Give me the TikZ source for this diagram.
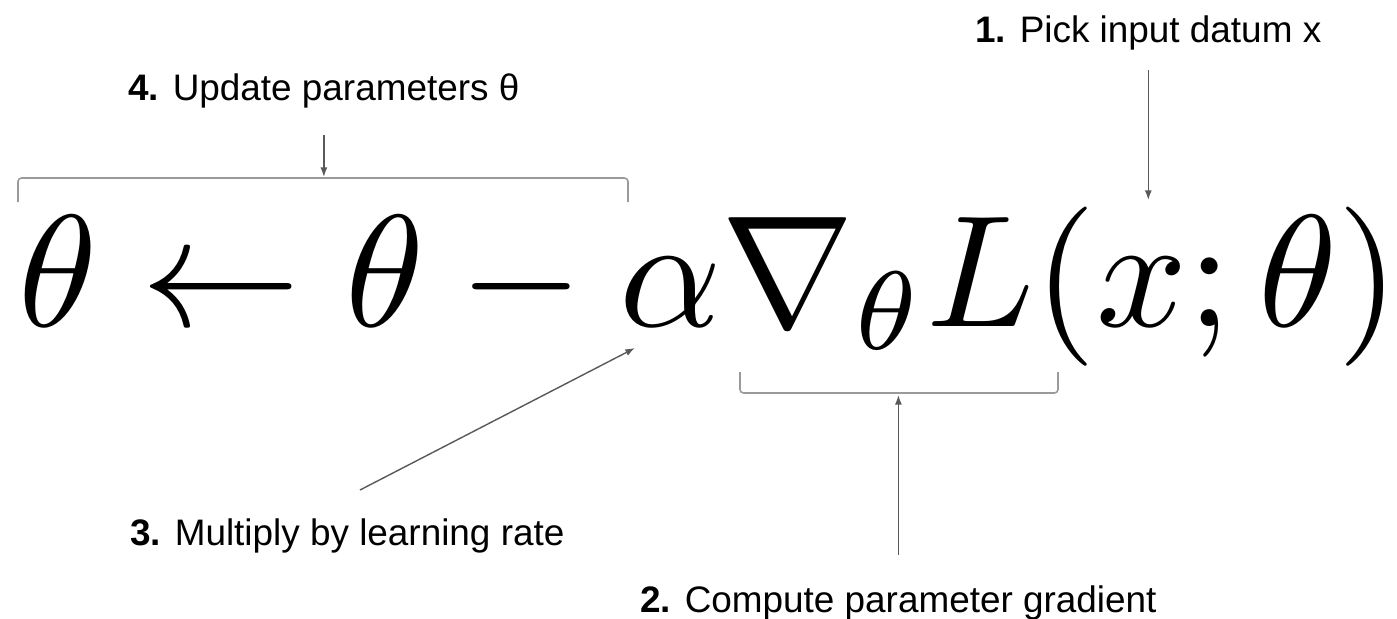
\documentclass[tikz,border=0pt]{standalone}
\usepackage[no-math]{fontspec}
\setmainfont{Liberation Sans}
\usepackage{graphicx}
\usetikzlibrary{arrows.meta}
\definecolor{arrowgray}{HTML}{595959}
\definecolor{bracegray}{HTML}{9A9A9A}
\tikzset{
  note/.style={inner sep=0pt, font=\fontsize{21}{25}\selectfont},
  pointer/.style={draw=arrowgray, line width=0.8pt, -{Latex[length=5.5pt,width=4pt]}},
  bracket/.style={draw=bracegray, line width=0.9pt, rounded corners=2pt}
}
\begin{document}
\begin{tikzpicture}[x=0.02cm, y=-0.02cm]
			\useasboundingbox (0,0) rectangle (1397,619);
			\node[inner sep=0pt, anchor=base west](eq) at (18,326){\resizebox{27.62cm}{!}{$\theta \leftarrow \theta - \alpha\nabla_\theta L(x;\theta)$}};
			\node[note, anchor=base west](lbl1) at (975,42){\textbf{1.} Pick input datum x};
			\node[note, anchor=base west](lbl4) at (128,100){\textbf{4.} Update parameters θ};
			\node[note, anchor=base west](lbl3) at (130,545){\textbf{3.} Multiply by learning rate};
			\node[note, anchor=base west](lbl2) at (640,612){\textbf{2.} Compute parameter gradient};
			\coordinate (updL) at (18,202);
			\coordinate (updR) at (628,202);
			\coordinate (updbar) at (0,177);
			\coordinate (gradL) at (740,372);
			\coordinate (gradR) at (1058,372);
			\coordinate (gradbar) at (0,395);
			\coordinate (xpt) at (0,200);
			\coordinate (lrtail) at (360,490);
			\coordinate (alphapt) at (635,348);
			\draw[bracket] (updL) |- (updR |- 0,178) -- (updR);
			\draw[bracket] (gradL) |- (gradR |- 0,393) -- (gradR);
			\draw[pointer, shorten <=0.54cm] (lbl4.south) -- (lbl4.south |- updbar);
			\draw[pointer, shorten <=0.4cm] (lbl1.south) -- (lbl1.south |- xpt);
			\draw[pointer, shorten <=0.6cm] (lbl2.north) -- (lbl2.north |- gradbar);
			\draw[pointer] (lrtail) -- (alphapt);
\end{tikzpicture}
\end{document}
